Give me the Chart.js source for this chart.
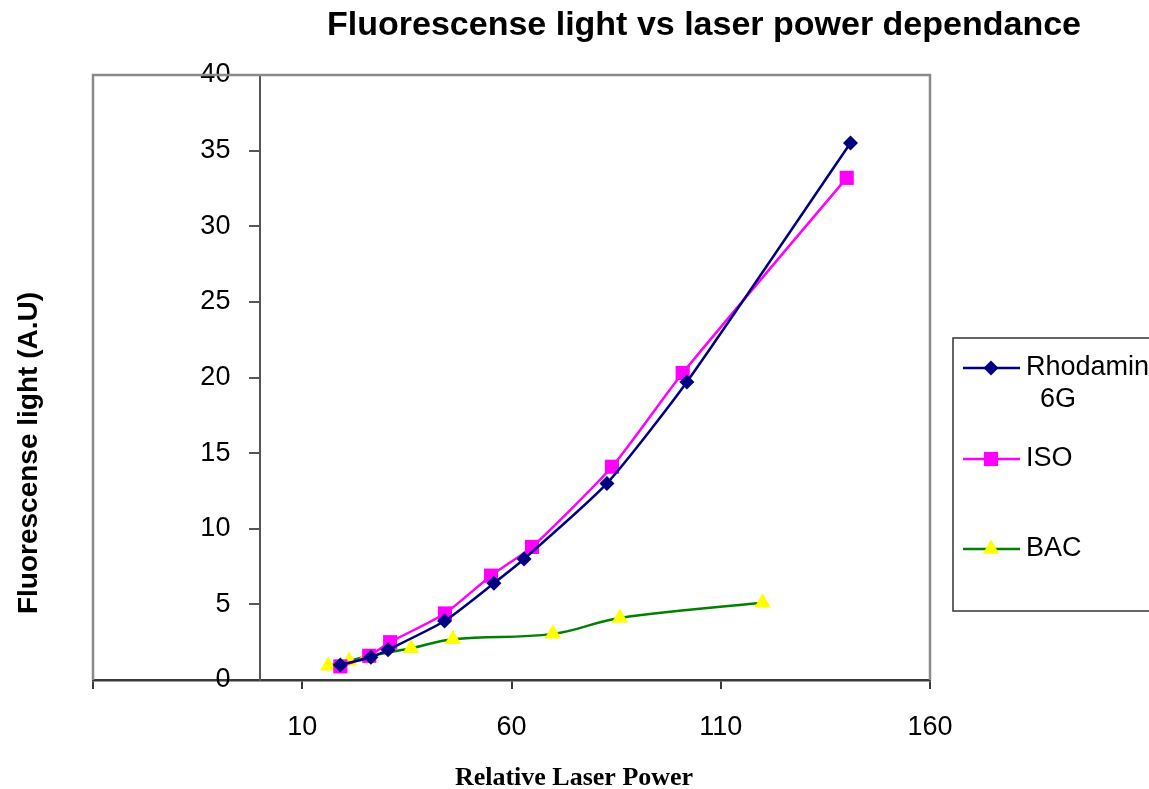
<!DOCTYPE html>
<html>
<head>
<meta charset="utf-8">
<title>Fluorescense light vs laser power dependance</title>
<script src="https://cdn.jsdelivr.net/npm/chart.js@4/dist/chart.umd.min.js"></script>
<style>
  html, body { margin: 0; padding: 0; background: #fff; }
  #wrap { position: relative; width: 1149px; height: 789px; }
</style>
</head>
<body>
<div id="wrap"><canvas id="chart" width="1149" height="789"></canvas></div>
<script>
// relative laser power / fluorescence readings per sample
const rhodX = [19.1, 26.4, 30.5, 44.0, 55.8, 63.0, 82.8, 101.9, 141.0];
const rhodY = [1.0, 1.5, 2.0, 3.9, 6.4, 8.0, 13.0, 19.7, 35.5];
const isoX = [19.1, 26.0, 31.0, 44.1, 55.1, 64.9, 84.0, 100.9, 140.1];
const isoY = [0.9, 1.6, 2.5, 4.4, 6.9, 8.8, 14.1, 20.3, 33.2];
const bacX = [16.2, 21.2, 25.3, 36.0, 46.0, 69.9, 85.9, 120.0];
const bacY = [0.95, 1.25, 1.55, 2.1, 2.7, 3.05, 4.1, 5.1];

const seriesNames = ['Rhodamin 6G', 'ISO', 'BAC'];
const xTicks = [-40, 10, 60, 110, 160];

const pts = (xs, ys) => xs.map((x, i) => ({x: x, y: ys[i]}));

const FONT = '"Liberation Sans", Arial, sans-serif';

// frame, titles and the boxed legend on the right
const decor = {
  id: 'decor',
  beforeDatasetsDraw(chart){
    const {ctx, chartArea: a} = chart;
    ctx.save();
    ctx.strokeStyle = '#8a8a8a';
    ctx.lineWidth = 2.5;
    ctx.beginPath();
    ctx.moveTo(a.left, a.bottom);
    ctx.lineTo(a.left, a.top);
    ctx.lineTo(a.right, a.top);
    ctx.lineTo(a.right, a.bottom);
    ctx.stroke();
    ctx.restore();
  },
  afterDraw(chart){
    const ctx = chart.ctx;
    ctx.save();
    ctx.fillStyle = '#000';
    ctx.textAlign = 'center';
    ctx.textBaseline = 'middle';
    ctx.font = 'bold 34px ' + FONT;
    ctx.fillText('Fluorescense light vs laser power dependance', 704, 26);

    ctx.font = 'bold 26px "Liberation Serif", "Times New Roman", serif';
    ctx.fillText('Relative Laser Power', 574, 778);

    ctx.save();
    ctx.translate(29, 453);
    ctx.rotate(-Math.PI / 2);
    ctx.font = 'bold 28px ' + FONT;
    ctx.fillText('Fluorescense light (A.U)', 0, 0);
    ctx.restore();

    // legend
    ctx.strokeStyle = '#333';
    ctx.lineWidth = 1.5;
    ctx.strokeRect(953, 338, 220, 273);
    const rows = [368, 459, 549];
    chart.data.datasets.forEach((ds, i) => {
      const y = rows[i];
      ctx.strokeStyle = ds.borderColor;
      ctx.lineWidth = 2.5;
      ctx.beginPath();
      ctx.moveTo(963, y);
      ctx.lineTo(1020, y);
      ctx.stroke();
      ctx.fillStyle = ds.pointBackgroundColor;
      ctx.strokeStyle = ds.pointBackgroundColor;
      Chart.helpers.drawPoint(ctx, {pointStyle: ds.pointStyle, radius: ds.pointRadius, rotation: 0, borderWidth: 0}, 991, y);
      ctx.fillStyle = '#000';
      ctx.textAlign = 'left';
      ctx.font = '27px ' + FONT;
      const parts = ds.label.split(' ');
      ctx.fillText(parts[0], 1026, y);
      if (parts[1]) ctx.fillText(parts[1], 1040, y + 32);
    });
    ctx.restore();
  }
};

const ctx = document.getElementById('chart').getContext('2d');
new Chart(ctx, {
  type: 'line',
  data: {
    datasets: [
      {
        label: seriesNames[0],
        data: pts(rhodX, rhodY),
        borderColor: '#000080',
        backgroundColor: '#000080',
        pointBackgroundColor: '#000080',
        pointBorderWidth: 0,
        pointStyle: 'rectRot',
        pointRadius: 7.5,
        borderWidth: 2.5,
        tension: 0.2
      },
      {
        label: seriesNames[1],
        data: pts(isoX, isoY),
        borderColor: '#ff00ff',
        backgroundColor: '#ff00ff',
        pointBackgroundColor: '#ff00ff',
        pointBorderWidth: 0,
        pointStyle: 'rect',
        pointRadius: 10,
        borderWidth: 2.5,
        tension: 0.2
      },
      {
        label: seriesNames[2],
        data: pts(bacX, bacY),
        borderColor: '#008000',
        backgroundColor: '#ffff00',
        pointBackgroundColor: '#ffff00',
        pointBorderWidth: 0,
        pointStyle: 'triangle',
        pointRadius: 9.5,
        borderWidth: 2.5,
        tension: 0.4
      }
    ]
  },
  options: {
    responsive: false,
    animation: false,
    layout: { padding: { left: 93, right: 219, top: 75, bottom: 0 } },
    plugins: {
      legend: { display: false },
      title: { display: false },
      tooltip: { enabled: false }
    },
    scales: {
      x: {
        type: 'linear',
        min: xTicks[0],
        max: xTicks[xTicks.length - 1],
        afterBuildTicks: s => { s.ticks = xTicks.map(v => ({value: v})); },
        afterFit: s => { s.height = 109; },
        border: { color: '#3a3a3a', width: 2.5 },
        grid: { drawOnChartArea: false, drawTicks: true, tickLength: 9, color: '#3a3a3a', lineWidth: 2 },
        ticks: {
          padding: 22,
          color: '#000',
          font: { family: FONT, size: 27 },
          maxRotation: 0,
          callback: v => v === xTicks[0] ? '' : v
        }
      },
      y: {
        // value axis crosses the x axis at 0
        position: { x: 0 },
        min: 0,
        max: 40,
        ticks: {
          stepSize: 5,
          color: '#000',
          font: { family: FONT, size: 27 },
          // labels of a crossing axis sit flush against it, so pad with spaces
          callback: v => v + '    '
        },
        border: { color: '#555', width: 2 },
        grid: { drawOnChartArea: false, drawTicks: true, tickLength: 10, color: '#555', lineWidth: 2 }
      }
    }
  },
  plugins: [decor]
});
</script>
</body>
</html>
